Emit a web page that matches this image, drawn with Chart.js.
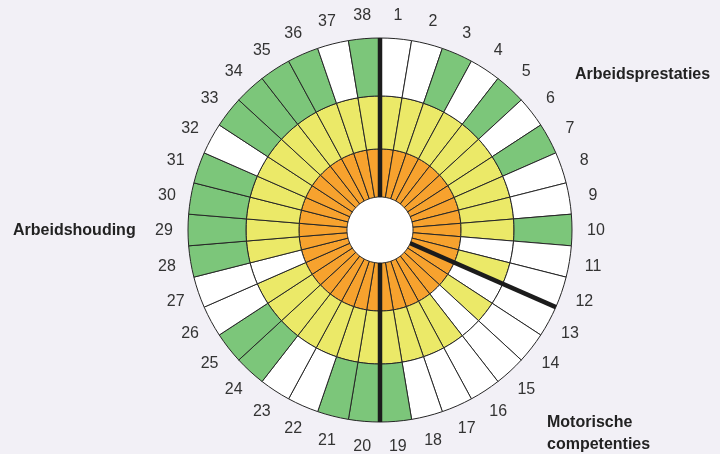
<!DOCTYPE html>
<html>
<head>
<meta charset="utf-8">
<script src="https://cdn.jsdelivr.net/npm/chart.js@4/dist/chart.umd.min.js"></script>
<style>
  html, body {margin:0; padding:0; background:#f2f0f6;}
  canvas {display:block;}
</style>
</head>
<body>
<canvas id="wheel" width="720" height="454"></canvas>
<script>
// segment numbers, clockwise from 12 o'clock
const segments = ['1','2','3','4','5','6','7','8','9','10','11','12','13','14','15','16','17','18','19',
  '20','21','22','23','24','25','26','27','28','29','30','31','32','33','34','35','36','37','38'];

// score per segment: 1 = orange only, 2 = + yellow, 3 = + green
const levels = [2,2,3,2,3,2,3,2,2,3, 1,2,1,2,1,2,2,2,3,3, 3,2,2,3,3,2,1,3,3,3, 3,2,3,3,3,3,2,3];

const groupNames = [['Arbeidsprestaties'], ['Motorische', 'competenties'], ['Arbeidshouding']];
const groupLast = [12, 19, 38];   // last segment of each group -> thick separator

const ringColors = ['#7cc67a', '#ebe968', '#f7a22e'];  // outer, middle, inner
const ringLevel = [3, 2, 1];
const ringWeights = [58, 53, 48];

const wheelDecor = {
  id: 'wheelDecor',
  beforeDatasetsDraw(chart) {
    // white hole in the middle
    const {ctx} = chart;
    const inner = chart.getDatasetMeta(2).data;
    ctx.save();
    ctx.fillStyle = '#ffffff';
    ctx.beginPath();
    ctx.arc(inner[0].x, inner[0].y, inner[0].innerRadius + 1, 0, Math.PI * 2);
    ctx.fill();
    ctx.restore();
  },
  afterDatasetsDraw(chart) {
    const {ctx} = chart;
    const outer = chart.getDatasetMeta(0).data;
    const inner = chart.getDatasetMeta(2).data;
    const cx = outer[0].x, cy = outer[0].y;
    const rOut = outer[0].outerRadius, rIn = inner[0].innerRadius;
    ctx.save();

    // group separators
    ctx.strokeStyle = '#1c1c1c';
    ctx.lineWidth = 4.5;
    groupLast.forEach(n => {
      const a = outer[n - 1].endAngle;
      ctx.beginPath();
      ctx.moveTo(cx + rIn * Math.cos(a), cy + rIn * Math.sin(a));
      ctx.lineTo(cx + rOut * Math.cos(a), cy + rOut * Math.sin(a));
      ctx.stroke();
    });

    // segment numbers
    ctx.fillStyle = '#333';
    ctx.font = '16px "Liberation Sans", Arial, sans-serif';
    ctx.textAlign = 'center';
    ctx.textBaseline = 'middle';
    const rLab = rOut + 24;
    outer.forEach((arc, i) => {
      const a = (arc.startAngle + arc.endAngle) / 2;
      ctx.fillText(segments[i], cx + rLab * Math.cos(a), cy + 1 + rLab * Math.sin(a));
    });

    // group titles
    ctx.fillStyle = '#222';
    ctx.font = 'bold 16px "Liberation Sans", Arial, sans-serif';
    ctx.textAlign = 'left';
    const titlePos = [[195, -155], [167, 193], [-367, 1]];
    groupNames.forEach((lines, g) => {
      lines.forEach((t, k) => {
        ctx.fillText(t, cx + titlePos[g][0], cy + titlePos[g][1] + k * 22);
      });
    });
    ctx.restore();
  }
};

new Chart(document.getElementById('wheel'), {
  type: 'doughnut',
  plugins: [wheelDecor],
  data: {
    labels: segments,
    datasets: ringLevel.map((lv, r) => ({
      data: segments.map(() => 1),
      weight: ringWeights[r],
      backgroundColor: levels.map(l => l >= lv ? ringColors[r] : '#ffffff'),
      borderColor: '#262626',
      borderWidth: 1
    }))
  },
  options: {
    responsive: false,
    animation: false,
    events: [],
    radius: 192,
    cutout: '17.2%',
    layout: {padding: {left: 188, right: 148, top: 38, bottom: 32}},
    plugins: {legend: {display: false}, tooltip: {enabled: false}}
  }
});
</script>
</body>
</html>
